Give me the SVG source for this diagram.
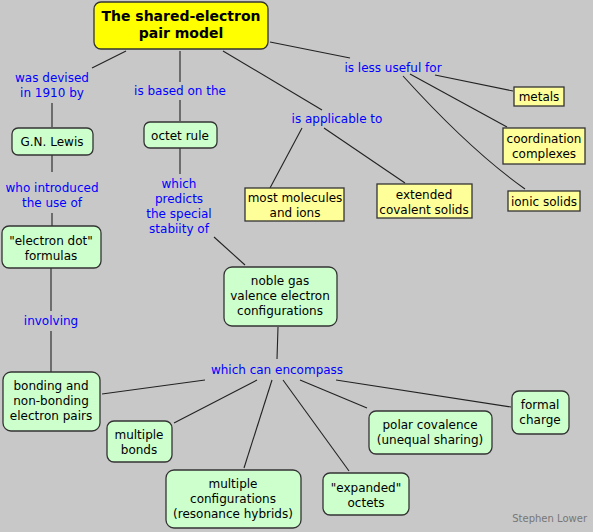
<svg xmlns="http://www.w3.org/2000/svg" width="593" height="532" viewBox="0 0 593 532">
<style>
.bg{fill:#c8c8c8}
.g{fill:#ccffcc;stroke:#333;stroke-width:1.3}
.y{fill:#ffff99;stroke:#333;stroke-width:1.3}
.t{fill:#ffff00;stroke:#333;stroke-width:1.3}
text{font-family:"DejaVu Sans",Verdana,sans-serif;font-size:12px;text-anchor:middle;fill:#000}
.lb{fill:#0000ff}
.tt{font-weight:bold;font-size:14px}
.c line,.c path{stroke:#222;stroke-width:1.1;fill:none}
.sig{fill:#777;font-size:10px;text-anchor:end}
</style>
<rect class="bg" x="0" y="0" width="593" height="532"/>
<g class="c" id="connectors">
<line x1="126" y1="51" x2="92" y2="68"/>
<line x1="52" y1="103" x2="52" y2="127"/>
<line x1="180" y1="51" x2="180" y2="82"/>
<line x1="180" y1="100" x2="180" y2="121"/>
<line x1="223" y1="51" x2="322" y2="110"/>
<line x1="270" y1="42" x2="350" y2="58"/>
<line x1="435" y1="75" x2="513" y2="91"/>
<line x1="410" y1="74" x2="507" y2="127"/>
<path d="M403,76 Q470,150 525,189"/>
<line x1="302" y1="128" x2="270" y2="188"/>
<line x1="324" y1="128" x2="405" y2="183"/>
<line x1="52" y1="155" x2="52" y2="172"/>
<line x1="52" y1="213" x2="52" y2="226"/>
<line x1="180" y1="148" x2="180" y2="174"/>
<line x1="214" y1="237" x2="245" y2="265"/>
<line x1="51" y1="268" x2="51" y2="311"/>
<line x1="51" y1="331" x2="51" y2="372"/>
<line x1="278" y1="327" x2="277" y2="359"/>
<line x1="205" y1="380" x2="102" y2="394"/>
<line x1="257" y1="380" x2="174" y2="423"/>
<line x1="272" y1="380" x2="244" y2="468"/>
<line x1="283" y1="380" x2="349" y2="471"/>
<line x1="300" y1="380" x2="367" y2="408"/>
<line x1="336" y1="380" x2="511" y2="407"/>
</g>
<g id="labels">
<text class="lb" x="52" y="82">was devised</text>
<text class="lb" x="52" y="97">in 1910 by</text>
<text class="lb" x="180" y="95">is based on the</text>
<text class="lb" x="337" y="123">is applicable to</text>
<text class="lb" x="393" y="72">is less useful for</text>
<text class="lb" x="52" y="192">who introduced</text>
<text class="lb" x="52" y="207">the use of</text>
<text class="lb" x="179" y="188">which</text>
<text class="lb" x="179" y="203">predicts</text>
<text class="lb" x="179" y="218">the special</text>
<text class="lb" x="179" y="233">stabiity of</text>
<text class="lb" x="51" y="325">involving</text>
<text class="lb" x="277" y="374">which can encompass</text>
</g>
<g id="title"><rect class="t" x="94" y="2" width="174" height="47" rx="7"/><text class="tt" x="181" y="21">The shared-electron</text><text class="tt" x="181" y="38">pair model</text></g>
<g id="lewis"><rect class="g" x="12" y="128" width="81" height="27" rx="6"/><text x="52" y="146">G.N. Lewis</text></g>
<g id="octet"><rect class="g" x="144" y="122" width="73" height="26" rx="6"/><text x="180" y="140">octet rule</text></g>
<g id="dot"><rect class="g" x="2" y="226" width="99" height="42" rx="7"/><text x="51" y="245">"electron dot"</text><text x="51" y="260">formulas</text></g>
<g id="noble"><rect class="g" x="224" y="267" width="113" height="59" rx="8"/><text x="280" y="285">noble gas</text><text x="280" y="300">valence electron</text><text x="280" y="315">configurations</text></g>
<g id="most"><rect class="y" x="245" y="188" width="99" height="33"/><text x="295" y="202">most molecules</text><text x="295" y="217">and ions</text></g>
<g id="extended"><rect class="y" x="377" y="184" width="95" height="34"/><text x="424" y="199">extended</text><text x="424" y="214">covalent solids</text></g>
<g id="metals"><rect class="y" x="514" y="87" width="50" height="19"/><text x="539" y="101">metals</text></g>
<g id="coord"><rect class="y" x="503" y="128" width="82" height="36"/><text x="544" y="143">coordination</text><text x="544" y="158">complexes</text></g>
<g id="ionic"><rect class="y" x="508" y="191" width="72" height="20"/><text x="544" y="206">ionic solids</text></g>
<g id="bonding"><rect class="g" x="3" y="372" width="97" height="59" rx="8"/><text x="51" y="390">bonding and</text><text x="51" y="405">non-bonding</text><text x="51" y="420">electron pairs</text></g>
<g id="multbonds"><rect class="g" x="107" y="421" width="65" height="41" rx="7"/><text x="139" y="439">multiple</text><text x="139" y="454">bonds</text></g>
<g id="multconf"><rect class="g" x="166" y="470" width="135" height="58" rx="8"/><text x="233" y="488">multiple</text><text x="233" y="503">configurations</text><text x="233" y="518">(resonance hybrids)</text></g>
<g id="expanded"><rect class="g" x="323" y="473" width="86" height="42" rx="7"/><text x="366" y="492">"expanded"</text><text x="366" y="507">octets</text></g>
<g id="polar"><rect class="g" x="369" y="411" width="123" height="43" rx="7"/><text x="430" y="429">polar covalence</text><text x="430" y="444">(unequal sharing)</text></g>
<g id="formal"><rect class="g" x="512" y="391" width="57" height="43" rx="7"/><text x="540" y="409">formal</text><text x="540" y="424">charge</text></g>
<text class="sig" x="587" y="522">Stephen Lower</text>
</svg>
